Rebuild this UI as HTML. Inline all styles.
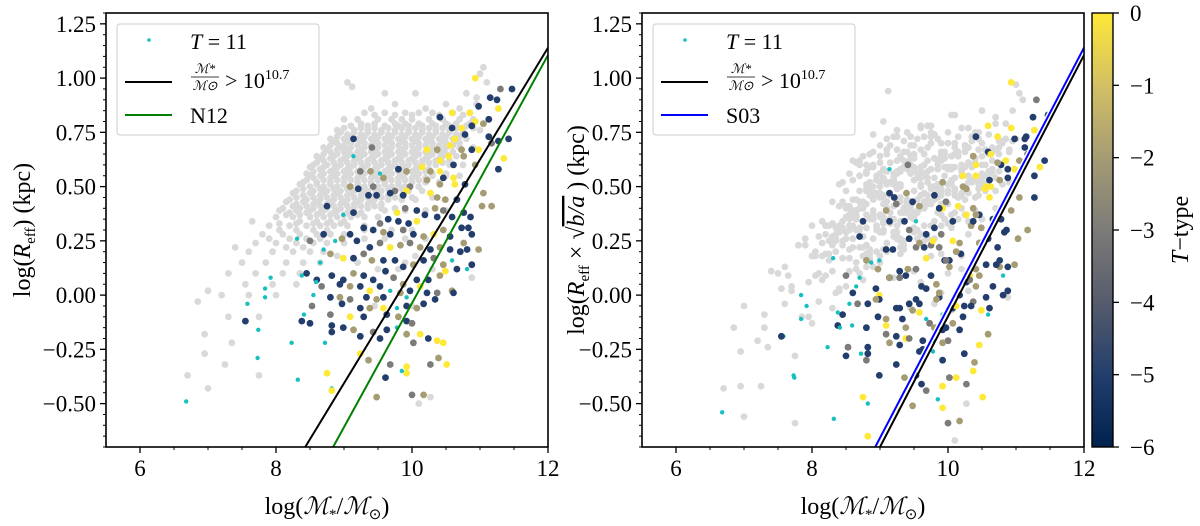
<!DOCTYPE html>
<html><head><meta charset="utf-8">
<style>
html,body{margin:0;padding:0;background:#fff;}
svg{display:block;font-family:"Liberation Serif",serif;}
</style></head>
<body>
<svg id="chart" width="1200" height="526" viewBox="0 0 1200 526" xmlns="http://www.w3.org/2000/svg"></svg>
<script>
// ---------- data ----------
const xTicks = [6, 8, 10, 12];
const xTickLabels = ['6', '8', '10', '12'];
const yTicks = [-0.5, -0.25, 0, 0.25, 0.5, 0.75, 1.0, 1.25];
const yTickLabels = ['\u22120.50', '\u22120.25', '0.00', '0.25', '0.50', '0.75', '1.00', '1.25'];
const cbTicks = [0, -1, -2, -3, -4, -5, -6];
const cbTickLabels = ['0', '\u22121', '\u22122', '\u22123', '\u22124', '\u22125', '\u22126'];
// gray points: rows "y: x x x ..."
const grayRows = [
"1.05:11.05","1.02:11.0","0.98:9.05 11.1","0.96:9.12","0.93:9.6 10.05 10.8","0.91:10.95","0.88:9.75 10.5 10.95",
"0.86:10.2 9.4 10.7","0.84:9.3 9.6 9.9 10.1 10.3 10.6 10.85","0.81:9.0 9.2 9.5 9.7 9.85 10.0 10.25 10.45 10.7 10.9",
"0.78:9.1 9.35 9.6 9.8 9.95 10.15 10.35 10.55 10.8","0.76:8.9 9.15 9.35 9.55 9.75 9.95 10.15 10.35 10.55 10.75 11.0",
"0.74:9.05 9.25 9.45 9.65 9.85 10.05 10.25 10.45 10.65","0.72:8.8 9.0 9.2 9.4 9.6 9.8 10.0 10.2 10.4 10.6 10.8",
"0.70:8.9 9.1 9.3 9.5 9.7 9.9 10.1 10.3 10.5 10.7","0.68:8.7 8.95 9.1 9.3 9.5 9.7 9.9 10.1 10.3 10.5 10.7 10.9",
"0.66:8.8 9.0 9.2 9.4 9.6 9.8 10.0 10.2 10.4 10.6","0.64:8.6 8.85 9.05 9.25 9.45 9.65 9.85 10.05 10.25 10.45 10.65",
"0.62:8.7 8.95 9.15 9.35 9.55 9.75 9.95 10.15 10.35 10.55","0.60:8.55 8.75 8.95 9.15 9.35 9.55 9.75 9.95 10.15 10.35 10.55 10.75",
"0.58:8.65 8.85 9.05 9.25 9.45 9.65 9.85 10.05 10.25","0.56:8.45 8.7 8.9 9.1 9.3 9.5 9.7 9.9 10.1 10.3 10.5",
"0.54:8.55 8.8 9.0 9.2 9.4 9.6 9.8 10.0 10.2","0.52:8.4 8.6 8.8 9.0 9.2 9.4 9.6 9.8 10.0 10.2 10.4",
"0.50:8.5 8.7 8.9 9.1 9.3 9.5 9.7 9.9 10.1","0.48:8.3 8.55 8.75 8.95 9.15 9.35 9.55 9.75 9.95 10.15",
"0.46:8.4 8.65 8.85 9.05 9.25 9.45 9.65 9.85","0.44:8.2 8.45 8.65 8.85 9.05 9.25 9.45 9.65 9.85 10.05",
"0.42:8.3 8.55 8.75 8.95 9.15 9.35 9.55","0.40:8.1 8.35 8.55 8.75 8.95 9.15 9.35 9.55 9.75",
"0.38:8.2 8.45 8.65 8.85 9.05 9.25","0.36:8.0 8.25 8.5 8.7 8.9 9.1 9.3 9.5","0.34:7.65 8.35 8.6 8.8 9.0",
"0.32:7.9 8.2 8.45 8.65 8.85 9.05 9.3","0.30:8.05 8.3 8.55 8.75","0.28:7.8 8.1 8.35 8.6 8.8 9.0",
"0.24:7.7 8.0 8.3 8.55 8.75 9.0","0.22:7.4 8.15 8.4","0.20:7.6 7.95 8.25 8.5 8.7","0.15:7.5 7.85 8.15 8.4 8.65",
"0.10:7.3 7.7 8.1 8.35","0.05:7.55 7.95 8.3","0.02:7.0","0.00:7.2 7.6 8.0","-0.03:6.85","-0.10:7.3 7.75",
"-0.18:6.95","-0.22:7.35","-0.27:6.95","-0.32:7.25","-0.37:7.75 6.7","-0.43:7.0","-0.47:10.27","-0.50:10.1",
"0.08:10.88","0.30:9.3 9.7 10.0","0.15:9.2 9.9","-0.05:9.45 10.0",
"0.83:9.45 9.75 10.0 10.4 10.75","0.79:9.25 9.45 9.75 9.9 10.1 10.3 10.5 10.65 10.85",
"0.77:9.0 9.25 9.45 9.65 9.85 10.05 10.25 10.45 10.65 10.9","0.75:8.95 9.15 9.35 9.55 9.75 9.95 10.15 10.35 10.55 10.75",
"0.73:8.9 9.1 9.3 9.5 9.7 9.9 10.1 10.3 10.5 10.7","0.71:8.85 9.05 9.25 9.45 9.65 9.85 10.05 10.25 10.45 10.65",
"0.69:8.8 9.0 9.2 9.4 9.6 9.8 10.0 10.2 10.4 10.6","0.67:8.75 8.9 9.05 9.25 9.45 9.65 9.85 10.05 10.25 10.45",
"0.65:8.7 8.9 9.1 9.3 9.5 9.7 9.9 10.1 10.3 10.5","0.63:8.65 8.8 9.0 9.2 9.4 9.6 9.8 10.0 10.2 10.4",
"0.61:8.6 8.85 9.05 9.25 9.45 9.65 9.85 10.05 10.25 10.45","0.59:8.5 8.7 8.9 9.1 9.3 9.5 9.7 9.9 10.1",
"0.57:8.55 8.8 9.0 9.2 9.4 9.6 9.8 10.0 10.2","0.55:8.5 8.65 8.85 9.05 9.25 9.45 9.65 9.85 10.05 10.3 10.5 10.7",
"0.53:8.45 8.7 8.9 9.1 9.3 9.5 9.7 9.9 10.1","0.51:8.35 8.6 8.8 9.0 9.2 9.4 9.6 9.8",
"0.49:8.4 8.65 8.85 9.05 9.25 9.45 9.65 9.85","0.47:8.25 8.5 8.7 8.9 9.1 9.3 9.5 9.7",
"0.45:8.3 8.55 8.75 8.95 9.15 9.35 9.55 9.75 10.0 10.3","0.43:8.15 8.4 8.6 8.8 9.0 9.2 9.4",
"0.41:8.25 8.45 8.65 8.85 9.05 9.25 9.45","0.39:8.05 8.3 8.5 8.7 8.9 9.1 9.6 9.9 10.2 10.5",
"0.37:8.15 8.35 8.6 8.8 9.0 9.2","0.33:8.05 8.3 8.55 8.75 8.95","0.26:7.9 8.2 8.45 8.65 9.3 9.6 9.9 10.2",
"0.12:9.5 9.8 10.3","0.18:8.9 10.05"
];
// colored points: "x,y,code" ; codes N=-5, G=-3, K=-2, Y=0, C=T11
const colPts = "11.47,0.95,N;11.30,0.95,G;11.15,0.91,N;11.25,0.90,N;10.93,1.0,Y;10.98,0.87,N;11.27,0.86,Y;10.85,0.84,Y;10.59,0.84,Y;11.13,0.81,N;10.93,0.80,Y;11.05,0.79,K;10.41,0.82,N;10.59,0.77,N;10.73,0.77,Y;10.88,0.78,N;10.63,0.72,Y;10.78,0.74,N;11.13,0.73,N;11.27,0.71,N;11.42,0.72,N;11.17,0.70,G;9.14,0.72,N;9.41,0.68,G;10.22,0.67,Y;10.37,0.67,K;10.56,0.69,Y;10.73,0.67,K;10.88,0.67,N;10.98,0.67,Y;10.41,0.62,Y;10.54,0.64,Y;10.76,0.64,K;10.61,0.60,N;10.93,0.60,K;11.35,0.63,Y;11.27,0.58,N;9.80,0.58,N;9.92,0.57,K;10.15,0.59,Y;10.27,0.57,K;10.41,0.57,Y;9.24,0.57,G;9.39,0.57,K;9.53,0.56,C;9.14,0.64,C;9.58,0.54,K;10.22,0.53,K;10.46,0.54,N;10.61,0.54,Y;9.09,0.50,K;9.21,0.49,N;9.43,0.50,G;9.97,0.50,G;10.41,0.51,K;10.63,0.51,Y;10.78,0.51,N;10.27,0.47,Y;10.37,0.45,K;9.75,0.48,G;9.92,0.48,Y;9.36,0.46,N;9.48,0.46,N;9.68,0.47,N;9.87,0.46,N;10.49,0.44,K;10.66,0.44,N;11.05,0.47,K;11.03,0.41,K;11.17,0.41,K;8.75,0.41,N;8.99,0.37,C;9.14,0.38,N;9.78,0.38,Y;9.90,0.40,G;10.07,0.39,N;10.19,0.37,N;10.34,0.40,K;10.37,0.36,N;10.46,0.39,G;10.59,0.36,N;10.76,0.38,N;10.86,0.36,N;9.65,0.35,N;9.80,0.34,N;9.95,0.33,N;10.07,0.34,Y;9.53,0.33,G;9.43,0.30,N;9.29,0.31,N;9.09,0.28,N;8.97,0.26,K;8.70,0.28,N;8.50,0.25,G;8.87,0.25,C;9.58,0.29,K;9.68,0.28,N;9.87,0.30,G;10.02,0.28,N;10.17,0.27,K;10.32,0.28,Y;10.46,0.30,K;10.56,0.27,N;10.73,0.31,N;10.83,0.31,N;10.88,0.28,N;10.76,0.24,K;10.98,0.21,K;10.81,0.21,N;9.19,0.25,N;9.38,0.22,N;9.53,0.24,G;9.68,0.22,Y;9.83,0.23,K;9.97,0.24,G;10.12,0.22,K;10.27,0.21,N;10.41,0.22,K;10.56,0.21,N;10.71,0.20,N;8.70,0.21,C;8.80,0.19,K;8.99,0.17,Y;9.14,0.17,N;9.29,0.19,G;9.41,0.16,K;9.58,0.16,N;9.75,0.16,N;9.87,0.13,N;10.02,0.14,K;10.17,0.16,N;10.32,0.17,G;10.46,0.14,K;10.59,0.16,C;10.66,0.12,N;10.88,0.14,N;10.81,0.12,C;8.45,0.10,N;8.60,0.07,N;8.82,0.09,N;8.99,0.07,N;9.14,0.10,K;9.29,0.09,N;9.43,0.07,N;9.61,0.11,N;9.73,0.08,G;9.87,0.05,K;10.07,0.07,N;10.24,0.07,N;10.41,0.09,K;10.49,0.11,Y;8.67,0.04,G;8.94,0.05,N;9.09,0.04,K;9.24,0.04,N;9.38,0.02,Y;9.53,0.04,N;9.68,0.02,C;9.83,0.01,K;9.97,0.02,N;10.12,0.04,Y;10.22,0.01,N;10.37,0.01,G;10.59,0.02,K;10.61,0.01,N;8.80,-0.01,N;8.94,-0.01,K;9.09,-0.02,G;9.33,-0.01,N;9.48,-0.02,K;9.58,-0.01,N;9.92,-0.01,C;10.17,-0.04,N;10.34,-0.02,N;8.53,-0.05,G;8.97,-0.04,N;9.24,-0.06,N;9.38,-0.06,K;9.58,-0.06,Y;9.78,-0.06,C;9.92,-0.05,N;10.07,-0.06,K;8.80,-0.09,G;9.09,-0.10,Y;9.29,-0.10,N;9.63,-0.09,N;9.80,-0.10,K;9.92,-0.12,N;10.0,-0.13,G;8.38,-0.12,N;8.50,-0.13,N;8.82,-0.14,N;8.99,-0.15,N;9.14,-0.16,K;9.24,-0.19,N;9.43,-0.17,G;9.53,-0.20,N;9.63,-0.16,N;9.78,-0.15,C;9.92,-0.18,K;10.12,-0.18,Y;10.24,-0.20,N;10.37,-0.21,Y;10.46,-0.22,Y;10.02,-0.22,G;8.82,-0.17,N;8.72,-0.22,C;9.24,-0.27,Y;9.36,-0.30,K;9.68,-0.32,G;9.61,-0.38,N;9.92,-0.33,Y;9.92,-0.36,Y;9.85,-0.35,C;10.27,-0.32,G;10.39,-0.29,K;10.51,-0.32,Y;8.75,-0.36,Y;8.82,-0.43,C;8.82,-0.44,Y;9.48,-0.47,K;10.0,-0.46,G;10.17,-0.46,K;6.68,-0.49,C;8.32,-0.39,C;7.73,-0.29,C;8.23,-0.22,C;7.58,-0.04,C;7.84,-0.01,C;7.74,-0.16,C;8.41,-0.09,C;7.92,0.08,C;7.84,0.03,C;8.38,0.09,C;8.31,0.26,C;8.65,0.15,C;8.55,0.0,C;8.59,0.06,C;7.55,-0.12,N";
const codeT = {N: -5, G: -3, K: -2, Y: 0, C: 11};
// per-galaxy 0.5*log(b/a) offsets for right panel (cycled)
const halfLogBA = [-0.12,-0.05,-0.18,-0.08,-0.02,-0.15,-0.10,-0.22,-0.06,-0.13,-0.03,-0.17,-0.09,-0.11,-0.04,-0.20,-0.07,-0.14,-0.01,-0.16,-0.10,-0.05,-0.25,-0.08,-0.12,-0.03,-0.19,-0.06,-0.13,-0.09,-0.02,-0.15,-0.11,-0.07,-0.21,-0.04,-0.13];
// fit lines: y at x=12 and x where line hits bottom of axes
const lineTopY_L = [1.14, 1.106];   // black, green (left)
const lineBotX_L = [8.43, 8.84];
const lineTopY_R = [1.14, 1.106];   // blue, black (right)
const lineBotX_R = [8.93, 9.0];

const grayX = [], grayY = [];
grayRows.forEach(r => { const [y, xs] = r.split(':'); xs.trim().split(/\s+/).forEach(x => { grayX.push(+x); grayY.push(+y); }); });
const colX = [], colY = [], colT = [];
colPts.split(';').forEach(p => { const a = p.split(','); colX.push(+a[0]); colY.push(+a[1]); colT.push(codeT[a[2]]); });

// ---------- helpers ----------
const NS = 'http://www.w3.org/2000/svg';
const svg = document.getElementById('chart');
function mk(tag, attrs, parent) { const e = document.createElementNS(NS, tag); for (const k in attrs) e.setAttribute(k, attrs[k]); (parent || svg).appendChild(e); return e; }
const Y0 = 13, Y1 = 447, XMIN = 5.5, XMAX = 12, YMIN = -0.70, YMAX = 1.30;
const sy = v => Y0 + (YMAX - v) / (YMAX - YMIN) * (Y1 - Y0);
function sxF(x0, x1) { return v => x0 + (v - XMIN) / (XMAX - XMIN) * (x1 - x0); }
const civ = [[0,34,78],[35,62,108],[87,92,109],[124,123,120],[165,156,116],[211,192,100],[254,232,56]];
function cmap(t) { let f = (t + 6) / 6 * 6; f = Math.max(0, Math.min(6, f)); const i = Math.min(5, Math.floor(f)), u = f - i; const c = civ[i].map((v, k) => Math.round(v + (civ[i+1][k] - v) * u)); return `rgb(${c})`; }

function panel(id, x0, x1, useRight) {
  const sx = sxF(x0, x1);
  const g = mk('g', {});
  
  
  const clipId = id + '-clip';
  const cp = mk('clipPath', {id: clipId}, g); mk('rect', {x: x0, y: Y0, width: x1 - x0, height: Y1 - Y0}, cp);
  const pts = mk('g', {'clip-path': `url(#${clipId})`}, g);
  
  
  grayX.forEach((x, i) => {
    const y = useRight ? grayY[i] + halfLogBA[i % halfLogBA.length] : grayY[i];
    const c = mk('circle', {cx: sx(x).toFixed(1), cy: sy(y).toFixed(1), r: 3.4, fill: '#d9d9d9'}, pts);
    
    
  });
  colX.forEach((x, i) => {
    const y = useRight ? colY[i] + halfLogBA[i % halfLogBA.length] : colY[i];
    const t11 = colT[i] === 11;
    const c = mk('circle', {cx: sx(x).toFixed(1), cy: sy(y).toFixed(1), r: t11 ? 2.2 : 3.4, fill: t11 ? '#17bfbf' : cmap(colT[i])}, pts);
    
    
  });
  const tops = useRight ? lineTopY_R : lineTopY_L, bots = useRight ? lineBotX_R : lineBotX_L;
  const cols = useRight ? ['#0000ff', '#000'] : ['#000', '#008000'];
  const names = useRight ? ['s03-line', 'massive-fit-line'] : ['massive-fit-line', 'n12-line'];
  [0, 1].forEach(k => {
    if (useRight && k === 0) mk('line', {x1: sx(bots[k]), y1: sy(YMIN), x2: sx(12), y2: sy(tops[k]), stroke: '#fff', 'stroke-width': 5}, pts);
    const l = mk('line', {x1: sx(bots[k]), y1: sy(YMIN), x2: sx(12), y2: sy(tops[k]), stroke: cols[k], 'stroke-width': 2}, pts);
    
    
  });
  mk('rect', {x: x0, y: Y0, width: x1 - x0, height: Y1 - Y0, fill: 'none', stroke: '#000', 'stroke-width': 1.6}, g);
  for (let v = -0.70; v <= 1.301; v += 0.05) { const yy = sy(v); mk('line', {x1: x0 - 3, y1: yy, x2: x0, y2: yy, stroke: '#000', 'stroke-width': 1}, g); }
  yTicks.forEach((v, i) => {
    mk('line', {x1: x0 - 6, y1: sy(v), x2: x0, y2: sy(v), stroke: '#000', 'stroke-width': 1.3}, g);
    const t = mk('text', {x: x0 - 10, y: sy(v) + 8, 'text-anchor': 'end', 'font-size': 23}, g); t.textContent = yTickLabels[i];
    
    
  });
  for (let v = 6; v <= 12; v += 0.5) { mk('line', {x1: sx(v), y1: Y1, x2: sx(v), y2: Y1 + 3, stroke: '#000', 'stroke-width': 1}, g); }
  xTicks.forEach((v, i) => {
    mk('line', {x1: sx(v), y1: Y1, x2: sx(v), y2: Y1 + 6, stroke: '#000', 'stroke-width': 1.3}, g);
    const t = mk('text', {x: sx(v), y: Y1 + 29, 'text-anchor': 'middle', 'font-size': 23}, g); t.textContent = xTickLabels[i];
    
    
  });
  const xl = mk('text', {x: (x0 + x1) / 2, y: 514, 'text-anchor': 'middle', 'font-size': 24}, g);
  xl.innerHTML = 'log(<tspan font-style="italic">ℳ</tspan><tspan font-size="15" dy="5">*</tspan><tspan dy="-5">/</tspan><tspan font-style="italic">ℳ</tspan><tspan font-size="15" dy="5">⊙</tspan><tspan dy="-5">)</tspan>';
  
  
  const lx = x0 + 11, ly = 24;
  const lg = mk('g', {}, g);
  
  
  mk('rect', {x: lx, y: ly, width: 202, height: 111, rx: 3, fill: '#fff', 'fill-opacity': 0.85, stroke: '#ccc', 'stroke-width': 1}, lg);
  mk('circle', {cx: lx + 32, cy: ly + 16, r: 1.8, fill: '#17bfbf'}, lg);
  const t1 = mk('text', {x: lx + 73, y: ly + 25, 'font-size': 22}, lg); t1.innerHTML = '<tspan font-style="italic">T</tspan> = 11';
  mk('line', {x1: lx + 8, y1: ly + 58, x2: lx + 55, y2: ly + 58, stroke: '#000', 'stroke-width': 2}, lg);
  const f1 = mk('text', {x: lx + 88, y: ly + 49, 'text-anchor': 'middle', 'font-size': 13, 'font-style': 'italic'}, lg); f1.textContent = 'ℳ*';
  mk('line', {x1: lx + 74, y1: ly + 53, x2: lx + 102, y2: ly + 53, stroke: '#000', 'stroke-width': 0.8}, lg);
  const f2 = mk('text', {x: lx + 88, y: ly + 66, 'text-anchor': 'middle', 'font-size': 13, 'font-style': 'italic'}, lg); f2.textContent = 'ℳ⊙';
  const f3 = mk('text', {x: lx + 108, y: ly + 64, 'font-size': 22}, lg); f3.innerHTML = '&gt; 10<tspan font-size="14" dy="-9">10.7</tspan>';
  mk('line', {x1: lx + 8, y1: ly + 91, x2: lx + 55, y2: ly + 91, stroke: useRight ? '#0000ff' : '#008000', 'stroke-width': 2}, lg);
  const t3 = mk('text', {x: lx + 73, y: ly + 99, 'font-size': 22}, lg); t3.textContent = useRight ? 'S03' : 'N12';
}
panel('left-panel', 106, 548, false);
panel('right-panel', 642, 1084, true);

const yl1 = mk('text', {transform: 'translate(30,230) rotate(-90)', 'text-anchor': 'middle', 'font-size': 24});
yl1.innerHTML = 'log(<tspan font-style="italic">R</tspan><tspan font-size="15" dy="5">eff</tspan><tspan dy="-5">)  (kpc)</tspan>';


const yl2 = mk('text', {transform: 'translate(584,230) rotate(-90)', 'text-anchor': 'middle', 'font-size': 24});
yl2.innerHTML = 'log(<tspan font-style="italic">R</tspan><tspan font-size="15" dy="5">eff</tspan><tspan dy="-5"> × √</tspan><tspan font-style="italic" text-decoration="overline">b/a</tspan> )  (kpc)';



const defs = mk('defs', {});
const grad = mk('linearGradient', {id: 'cbg', x1: 0, y1: 1, x2: 0, y2: 0}, defs);
civ.forEach((c, i) => mk('stop', {offset: i / 6, 'stop-color': `rgb(${c})`}, grad));
const cb = mk('g', {});


mk('rect', {x: 1092, y: Y0, width: 21, height: Y1 - Y0, fill: 'url(#cbg)', stroke: '#000', 'stroke-width': 1.4}, cb);
cbTicks.forEach((v, i) => {
  const yy = Y0 + (0 - v) / 6 * (Y1 - Y0);
  mk('line', {x1: 1113, y1: yy, x2: 1119, y2: yy, stroke: '#000', 'stroke-width': 1.3}, cb);
  const t = mk('text', {x: 1130, y: yy + 8, 'font-size': 23}, cb); t.textContent = cbTickLabels[i];
  
  
});
const cbl = mk('text', {transform: 'translate(1188,230) rotate(-90)', 'text-anchor': 'middle', 'font-size': 24}, cb);
cbl.innerHTML = '<tspan font-style="italic">T</tspan>\u2212type';


</script>
</body></html>
